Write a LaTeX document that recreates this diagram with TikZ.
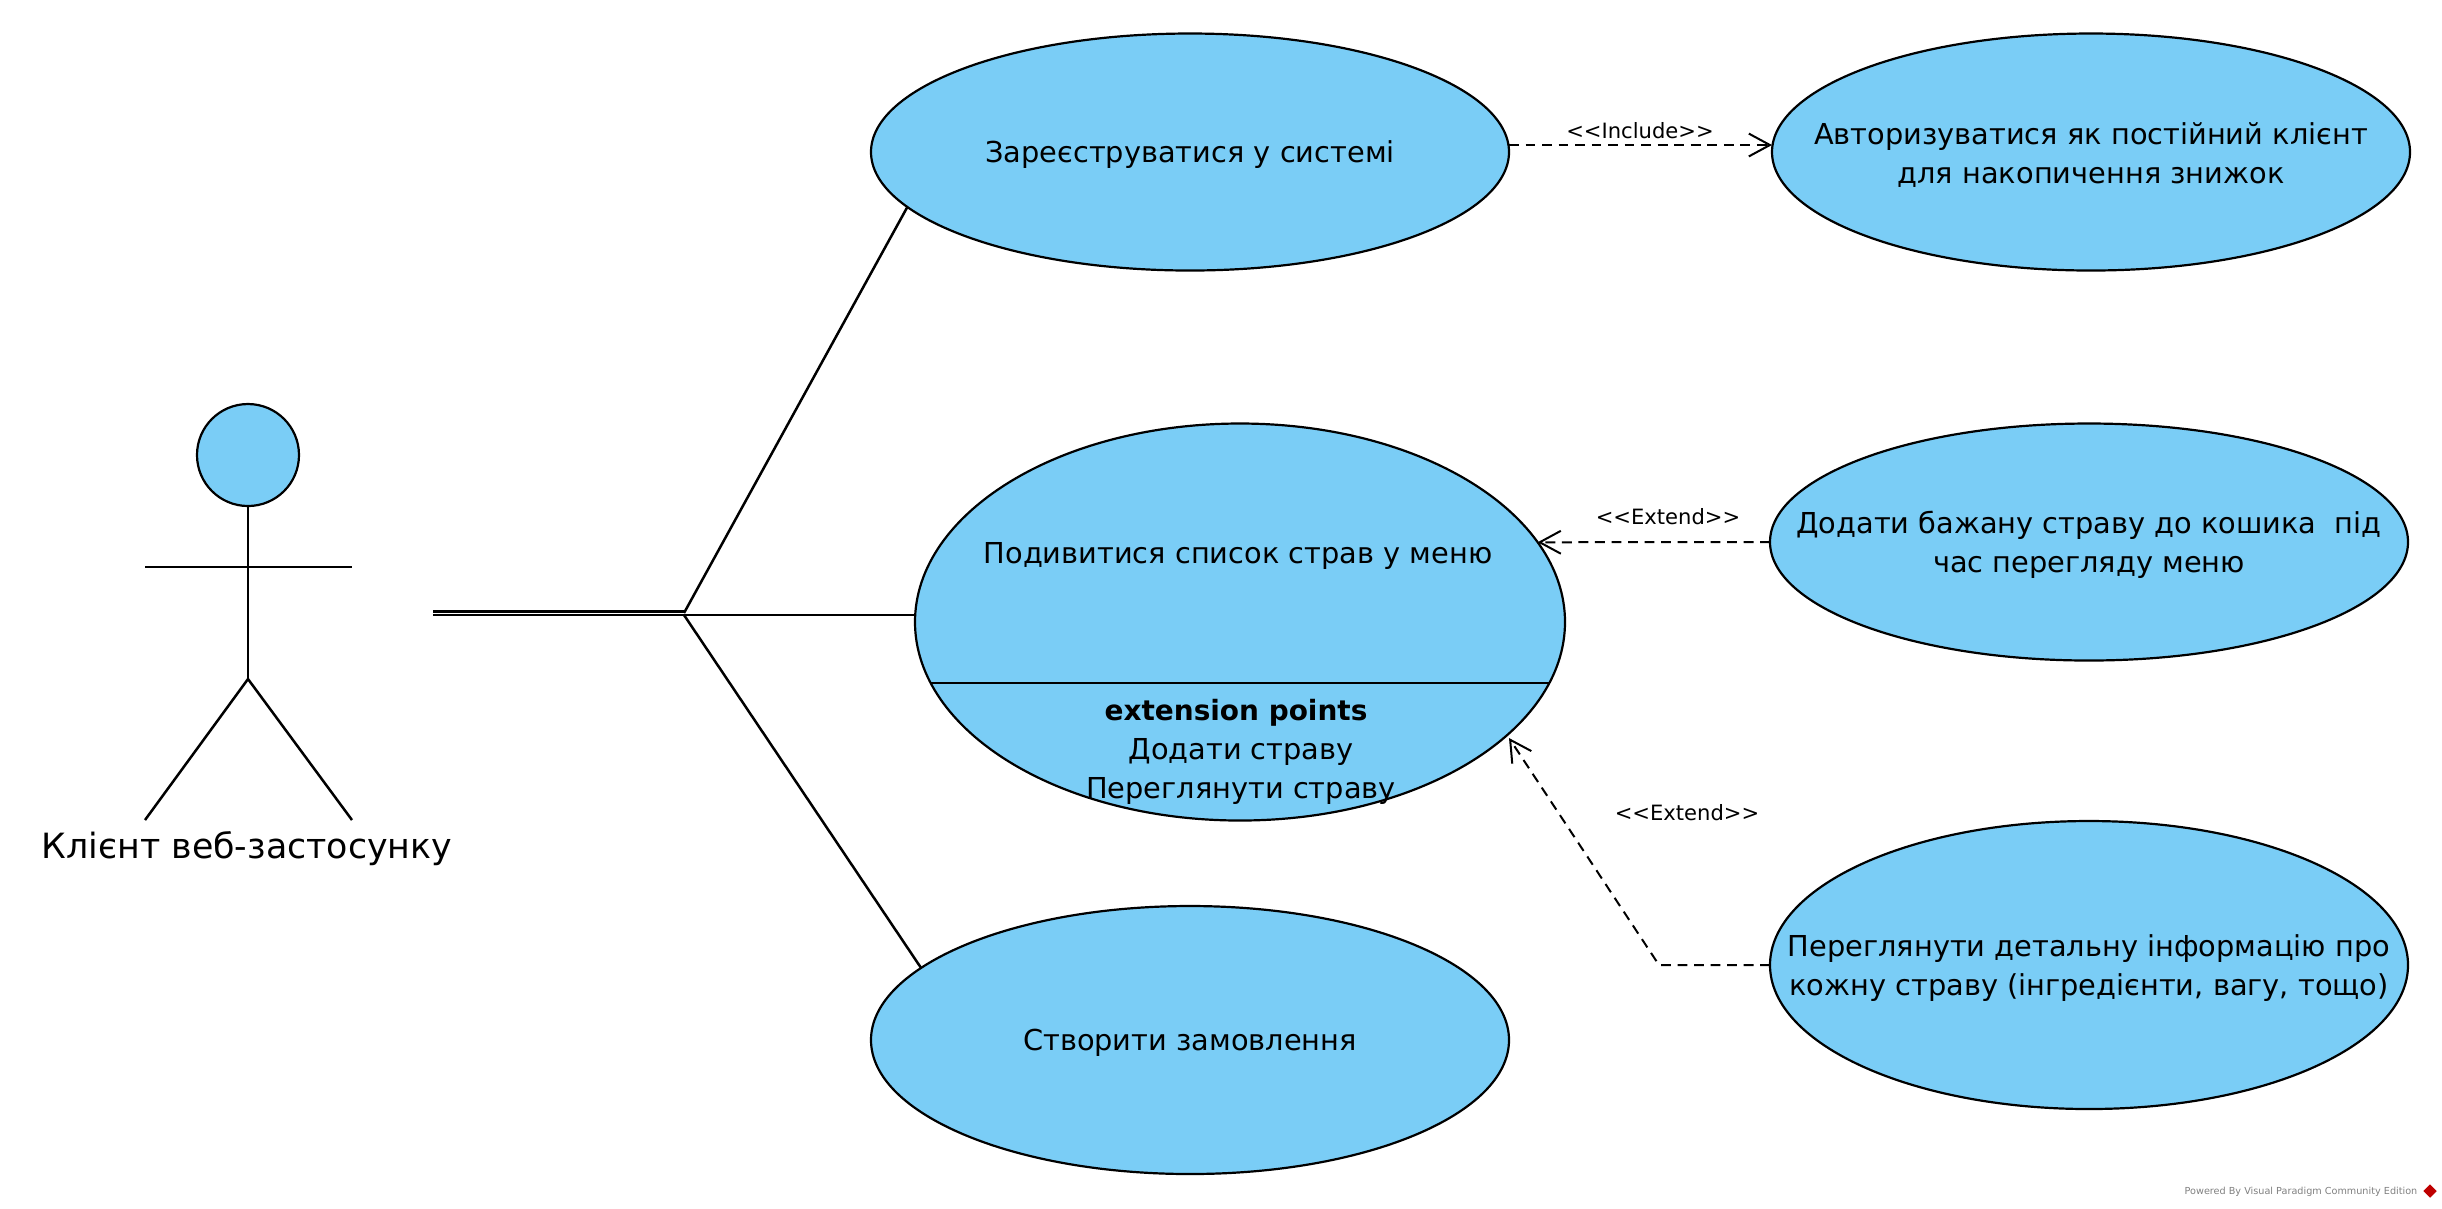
\documentclass[tikz,border=0pt]{standalone}
\usepackage{fontspec}
\setmainfont{DejaVu Sans}
\usetikzlibrary{%
  arrows.meta,%
  shapes.geometric,% wg. ellipse
  positioning%
}
\definecolor{casefill}{RGB}{122,205,246}
\tikzset{
  usecase/.style={ellipse,draw,fill=casefill,line width=0.22mm,inner sep=0pt,outer sep=0pt,minimum width=6.38cm},
  casetext/.style={align=center,yshift=-0.03cm,font=\fontsize{8.2}{11}\selectfont},
  stereo/.style={font=\fontsize{6}{8}\selectfont},
  assoc/.style={line width=0.25mm},
  depend/.style={line width=0.2mm,dash pattern=on 2.8pt off 1.9pt,-{Straight Barb[length=6pt,width=6.5pt,line width=0.2mm]}}
}
\begin{document}
\begin{tikzpicture}
    \useasboundingbox (0,0) rectangle (24.42,-12.08);
    %actor
    \node[circle,draw,fill=casefill,line width=0.22mm,inner sep=0pt,minimum size=1.02cm] (head) at (2.48,-4.55) {};
    \coordinate (hip) at (2.48,-6.79);
    \coordinate (armleft) at (1.45,-5.67);
    \coordinate (armright) at (3.52,-5.67);
    \coordinate (footleft) at (1.45,-8.2);
    \coordinate (footright) at (3.52,-8.2);
    \node[font=\fontsize{9.9}{12}\selectfont] (client) at (2.47,-8.49) {Клієнт веб-застосунку};

    %use cases
    \node[usecase,minimum height=2.37cm] (register) at (11.9,-1.52) {};
    \node[usecase,minimum height=2.37cm] (login) [right=2.63cm of register] {};
    \node[usecase,minimum width=6.5cm,minimum height=3.97cm] (menu) at (12.4,-6.22) {};
    \node[usecase,minimum height=2.37cm] (addcart) at (20.89,-5.42) {};
    \node[usecase,minimum height=2.88cm] (details) at (20.89,-9.65) {};
    \node[usecase,minimum height=2.68cm] (order) at (11.9,-10.4) {};

    \node[casetext] (registertext) at (register) {Зареєструватися у системі};
    \node[casetext] (logintext) at (login) {Авторизуватися як постійний клієнт\\для накопичення знижок};
    \node[casetext] (menutext) at (12.38,-5.53) {Подивитися список страв у меню};
    \node[casetext] (addcarttext) at (addcart) {Додати бажану страву до кошика\ \ під\\час перегляду меню};
    \node[casetext] (detailstext) at (details) {Переглянути детальну інформацію про\\кожну страву (інгредієнти, вагу, тощо)};
    \node[casetext] (ordertext) at (order) {Створити замовлення};

    %extension points
    \coordinate (splitleft) at (9.3,-6.83);
    \coordinate (splitright) at (15.5,-6.83);
    \draw[line width=0.18mm] (splitleft) -- (splitright);
    \node[casetext,font=\fontsize{7.95}{11}\selectfont\bfseries] (exttitle) at (12.36,-7.1) {extension points};
    \node[casetext] (extadd) at (12.41,-7.49) {Додати страву};
    \node[casetext] (extview) at (12.41,-7.88) {Переглянути страву};

    \draw[assoc] (head.south) -- (hip);
    \draw[assoc] (armleft) -- (armright);
    \draw[assoc] (hip) -- (footleft);
    \draw[assoc] (hip) -- (footright);

    %associations
    \coordinate (actorend) at (4.33,-6.13);
    \coordinate (junction) at (6.84,-6.13);
    \coordinate (junctionlow) at (6.84,-6.15);
    \draw[double,double distance=0.25pt,line width=0.22mm] (actorend) -- (junction);
    \draw[assoc] (junction) -- (register.191);
    \draw[assoc] (junctionlow) -- (menu.west |- junctionlow);
    \draw[assoc] (junctionlow) -- (order.165.4);

    %dependencies
    \draw[depend] ([yshift=0.07cm]register.east) -- ([yshift=0.07cm]login.west);
    \draw[depend] (addcart.west) -- (menu.15);
    \coordinate (detailsbend) at (16.59,-9.65);
    \coordinate (extendtip) at (15.09,-7.38);
    \draw[depend] (details.west) -- (detailsbend) -- (extendtip);
    \node[stereo] (includelabel) at (16.4,-1.31) {<{}<Include>{}>};
    \node[stereo] (extendone) at (16.68,-5.17) {<{}<Extend>{}>};
    \node[stereo] (extendtwo) at (16.87,-8.13) {<{}<Extend>{}>};

    %watermark
    \node[font=\fontsize{2.75}{4}\selectfont,text=black!50,anchor=east,inner sep=0pt] (powered) at (24.18,-11.92) {Powered By Visual Paradigm Community Edition};
    \node[diamond,fill=red!75!black,inner sep=0pt,minimum size=0.14cm] (logo) at (24.3,-11.91) {};
\end{tikzpicture}
\end{document}
